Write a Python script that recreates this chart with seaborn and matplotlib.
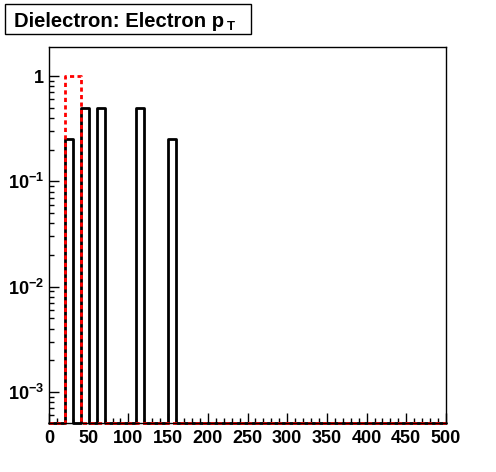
import numpy as np
import pandas as pd
import matplotlib
matplotlib.use("Agg")
import matplotlib.pyplot as plt
import seaborn as sns
from matplotlib.patches import Rectangle
from matplotlib.ticker import MultipleLocator, LogLocator, NullFormatter

sns.set_theme(style="white")
plt.rcParams['font.family'] = ['Liberation Sans', 'DejaVu Sans']
plt.rcParams['font.weight'] = 'bold'
plt.rcParams['mathtext.fontset'] = 'custom'
plt.rcParams['mathtext.rm'] = 'Liberation Sans:bold'
plt.rcParams['mathtext.bf'] = 'Liberation Sans:bold'
plt.rcParams['mathtext.it'] = 'Liberation Sans:bold'

# 数据 (pT bin centres, bin contents)
black_pt = [25, 45, 65, 115, 155]
black_w = [0.25, 0.5, 0.5, 0.5, 0.25]
red_pt = [25, 35]
red_w = [1.0, 1.0]
ytick_vals = [1e-3, 1e-2, 1e-1, 1]
ytick_labels = [r'$10^{-3}$', r'$10^{-2}$', r'$10^{-1}$', '1']
xtick_vals = [0, 50, 100, 150, 200, 250, 300, 350, 400, 450, 500]

black_df = pd.DataFrame({'pt': black_pt, 'w': black_w})
red_df = pd.DataFrame({'pt': red_pt, 'w': red_w})

fig = plt.figure(figsize=(4.96, 4.72), dpi=100)
ax = fig.add_axes([49/496, 1-423/472, 397/496, 376/472])

sns.histplot(data=black_df, x='pt', weights='w', binwidth=10, binrange=(0, 500),
             element="step", fill=False, color="black", linewidth=2, ax=ax)
sns.histplot(data=red_df, x='pt', weights='w', binwidth=10, binrange=(0, 500),
             element="step", fill=False, color="red", linewidth=2,
             linestyle=(0, (1.5, 1.2)), ax=ax)

ax.set_yscale("log")
ax.set_xlim(0, 500)
ymin = 5.07e-4
ax.set_ylim(ymin, 1.89)
# 空bin画在坐标轴底部 (ROOT风格)
for ln in ax.lines:
    yd = np.asarray(ln.get_ydata(), dtype=float)
    ln.set_ydata(np.where(yd <= 0, ymin, yd))
    ln.set_clip_on(False)
ax.set_xlabel("")
ax.set_ylabel("")

ax.set_xticks(xtick_vals)
ax.set_xticklabels([str(v) for v in xtick_vals])
ax.xaxis.set_minor_locator(MultipleLocator(10))
ax.set_yticks(ytick_vals)
ax.set_yticklabels(ytick_labels)
ax.yaxis.set_minor_locator(LogLocator(base=10, subs=np.arange(2, 10)))
ax.yaxis.set_minor_formatter(NullFormatter())

ax.tick_params(axis='both', which='major', direction='in', length=7.5, width=1,
               labelsize=13, color='black', labelcolor='black', pad=5)
ax.tick_params(axis='y', which='major', pad=3.5)
ax.tick_params(axis='both', which='minor', direction='in', length=3.8, width=1, color='black')
ax.tick_params(bottom=True, left=True, top=False, right=False)
ax.tick_params(axis='both', which='minor', bottom=True, left=True, top=False, right=False)
for t in ax.get_xticklabels() + ax.get_yticklabels():
    t.set_fontweight('bold')
for sp in ax.spines.values():
    sp.set_color('black')
    sp.set_linewidth(1)
ax.grid(False)

# 标题框
fig.patches.append(Rectangle((5/496, 1-34/472), 246/496, 30/472, transform=fig.transFigure,
                             fill=True, facecolor='white', edgecolor='black', linewidth=1))
fig.text(14/496, 1-27/472, 'Dielectron: Electron p', fontsize=14.6,
         fontweight='bold', color='black', ha='left', va='baseline')
fig.text(227/496, 1-30/472, 'T', fontsize=9.5,
         fontweight='bold', color='black', ha='left', va='baseline')

fig.savefig("out.png", dpi=100)
